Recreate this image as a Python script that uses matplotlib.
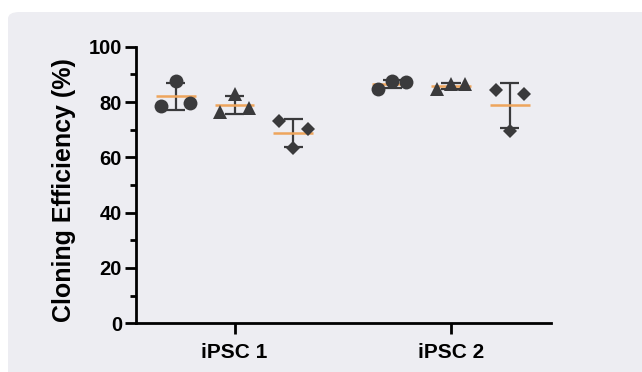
import numpy as np
import matplotlib
matplotlib.use("Agg")
import matplotlib.pyplot as plt
from matplotlib.patches import FancyBboxPatch

plt.rcParams['font.family'] = ['Liberation Sans', 'DejaVu Sans']

groups = ['iPSC 1', 'iPSC 2']
# three replicates per marker type, per group
circles = [[78.7, 87.7, 79.8], [84.7, 87.7, 87.1]]
triangles = [[76.5, 82.8, 77.7], [84.6, 86.4, 86.4]]
diamonds = [[73.0, 63.3, 70.1], [84.3, 69.5, 82.8]]
series = [circles, triangles, diamonds]
markers = ['o', '^', 'D']
msizes = [10, 10, 7.5]

dark = '#3a3a3c'
orange = '#eea55c'

fig = plt.figure(figsize=(6.42, 3.72), dpi=100)
fig.patch.set_facecolor('white')
bg = FancyBboxPatch((8 / 642, -0.2), 1.2, 1.2 - 12 / 372,
                    boxstyle='round,pad=0,rounding_size=0.018',
                    transform=fig.transFigure, facecolor='#ededf2',
                    edgecolor='none', zorder=-10)
fig.add_artist(bg)

ax = fig.add_axes([136 / 642, 48.7 / 372, (551 - 136) / 642, (323.3 - 46.7) / 372])
ax.set_facecolor('none')

offset = 0.272
jitter = 0.066
half_mean = 0.092
half_cap = 0.044

for gi in range(len(groups)):
    for si, data in enumerate(series):
        vals = np.array(data[gi])
        xc = gi + (si - 1) * offset
        m = vals.mean()
        sd = vals.std(ddof=1)
        ax.vlines(xc, m - sd, m + sd, color=dark, lw=1.6, zorder=2)
        ax.hlines([m - sd, m + sd], xc - half_cap, xc + half_cap, color=dark, lw=1.6, zorder=2)
        ax.hlines(m, xc - half_mean, xc + half_mean, color=orange, lw=1.8, zorder=3)
        xs = xc + np.array([-jitter, 0, jitter])
        ax.plot(xs, vals, linestyle='none', marker=markers[si], ms=msizes[si],
                color=dark, markeredgewidth=0, zorder=4, clip_on=False)

ax.set_xlim(-0.455, 1.462)
ax.set_ylim(0, 100)
ax.set_xticks([0, 1])
ax.set_xticklabels(groups, fontsize=15, fontweight='bold')
ax.set_yticks(range(0, 101, 20))
ax.set_yticks(range(10, 100, 20), minor=True)
for lbl in ax.get_yticklabels():
    lbl.set_fontsize(14.5)
    lbl.set_fontweight('bold')
ax.set_ylabel('Cloning Efficiency (%)', fontsize=18, fontweight='bold')
ax.yaxis.set_label_coords(-0.145, 0.482)

for side in ['top', 'right']:
    ax.spines[side].set_visible(False)
for side in ['left', 'bottom']:
    ax.spines[side].set_linewidth(2.0)
    ax.spines[side].set_color('black')
ax.tick_params(axis='both', which='major', length=8, width=2.0, direction='out', pad=2)
ax.tick_params(axis='x', which='major', pad=6)
ax.tick_params(axis='y', which='minor', length=4.5, width=2.0, direction='out')

fig.savefig('out.png', dpi=100, facecolor=fig.get_facecolor())
